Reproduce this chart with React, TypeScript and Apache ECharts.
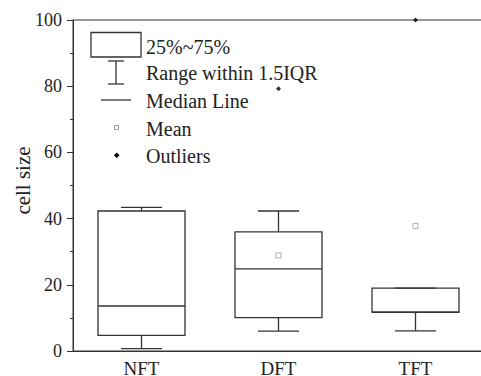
import React, { useEffect, useRef } from "react";
import * as echarts from "echarts";

const categories = ["NFT", "DFT", "TFT"];
const whiskerLow = [0.7, 6.0, 6.1];
const q1 = [4.7, 10.1, 11.7];
const median = [13.6, 24.8, 11.7];
const q3 = [42.3, 36.0, 19.0];
const whiskerHigh = [43.4, 42.3, 19.0];
const means: (number | null)[] = [null, 28.9, 37.8];
const outliers: [number, number][] = [
  [1, 79.2],
  [2, 100],
];
const yTicks = { min: 0, max: 100, interval: 20 };
const legendLabels = ["25%~75%", "Range within 1.5IQR", "Median Line", "Mean", "Outliers"];

const FONT = "Liberation Serif";
const LINE = "#333";

export default function App() {
  const ref = useRef<HTMLDivElement>(null);
  useEffect(() => {
    document.body.style.margin = "0";
    const chart = echarts.init(ref.current!, null, { renderer: "svg" });
    const boxData = categories.map((_, i) => [i, whiskerLow[i], q1[i], median[i], q3[i], whiskerHigh[i]]);
    const meanData = means
      .map((m, i) => (m == null ? null : [i, m]))
      .filter((d) => d != null);
    const legendY = [47, 73, 101, 129, 156];
    chart.setOption({
      animation: false,
      grid: {
        left: 73,
        top: 20,
        width: 411,
        height: 331,
        containLabel: false,
        outerBoundsMode: "none",
        show: true,
        borderColor: LINE,
        borderWidth: 1,
        backgroundColor: "transparent",
      },
      xAxis: {
        type: "category",
        data: categories,
        boundaryGap: true,
        axisLine: { lineStyle: { color: LINE, width: 1 } },
        axisTick: { alignWithLabel: true, length: 5, lineStyle: { color: LINE } },
        axisLabel: { fontFamily: FONT, fontSize: 19, color: "#222", margin: 8 },
        splitLine: { show: false },
      },
      yAxis: {
        type: "value",
        min: yTicks.min,
        max: yTicks.max,
        interval: yTicks.interval,
        name: "cell size",
        nameLocation: "middle",
        nameRotate: 90,
        nameGap: 40,
        nameMoveOverlap: false,
        nameTextStyle: { fontFamily: FONT, fontSize: 21, color: "#222", padding: [0, 0, 0, 10] },
        axisLine: { show: true, lineStyle: { color: LINE, width: 1 } },
        axisTick: { show: true, length: 6, lineStyle: { color: LINE } },
        minorTick: { show: true, splitNumber: 2, length: 3, lineStyle: { color: LINE } },
        axisLabel: { fontFamily: FONT, fontSize: 18, color: "#222", margin: 11 },
        splitLine: { show: false },
      },
      series: [
        {
          type: "custom",
          data: boxData,
          encode: { x: 0, y: [1, 2, 3, 4, 5] },
          renderItem: (params: any, api: any) => {
            const x = api.value(0);
            const band = api.size([1, 0])[0];
            const bw = band * 0.635;
            const cw = band * 0.3;
            const pLow = api.coord([x, api.value(1)]);
            const pQ1 = api.coord([x, api.value(2)]);
            const pMed = api.coord([x, api.value(3)]);
            const pQ3 = api.coord([x, api.value(4)]);
            const pHigh = api.coord([x, api.value(5)]);
            const cx = pQ1[0];
            const st = { stroke: LINE, lineWidth: 1.3, fill: null };
            return {
              type: "group",
              children: [
                { type: "rect", shape: { x: cx - bw / 2, y: pQ3[1], width: bw, height: pQ1[1] - pQ3[1] }, style: { stroke: LINE, lineWidth: 1.3, fill: "transparent" } },
                { type: "line", shape: { x1: cx - bw / 2, y1: pMed[1], x2: cx + bw / 2, y2: pMed[1] }, style: st },
                { type: "line", shape: { x1: cx, y1: pQ3[1], x2: cx, y2: pHigh[1] }, style: st },
                { type: "line", shape: { x1: cx, y1: pQ1[1], x2: cx, y2: pLow[1] }, style: st },
                { type: "line", shape: { x1: cx - cw / 2, y1: pHigh[1], x2: cx + cw / 2, y2: pHigh[1] }, style: st },
                { type: "line", shape: { x1: cx - cw / 2, y1: pLow[1], x2: cx + cw / 2, y2: pLow[1] }, style: st },
              ],
            };
          },
          z: 2,
        },
        {
          type: "scatter",
          data: meanData,
          symbol: "rect",
          symbolSize: 5,
          clip: false,
          itemStyle: { color: "#fff", borderColor: "#999", borderWidth: 1 },
          z: 3,
        },
        {
          type: "scatter",
          data: outliers,
          symbol: "diamond",
          symbolSize: 5,
          clip: false,
          itemStyle: { color: "#000" },
          z: 3,
        },
      ],
      graphic: [
        { type: "rect", shape: { x: 91, y: 32.5, width: 50, height: 24.5 }, style: { stroke: LINE, lineWidth: 1.3, fill: "#fff" } },
        { type: "line", shape: { x1: 116, y1: 61, x2: 116, y2: 84 }, style: { stroke: LINE, lineWidth: 1.3 } },
        { type: "line", shape: { x1: 108, y1: 61, x2: 124, y2: 61 }, style: { stroke: LINE, lineWidth: 1.3 } },
        { type: "line", shape: { x1: 108, y1: 84, x2: 124, y2: 84 }, style: { stroke: LINE, lineWidth: 1.3 } },
        { type: "line", shape: { x1: 101, y1: 100, x2: 131, y2: 100 }, style: { stroke: LINE, lineWidth: 1.3 } },
        { type: "rect", shape: { x: 114.5, y: 125.5, width: 4, height: 4 }, style: { stroke: "#999", lineWidth: 1, fill: "#fff" } },
        { type: "polygon", shape: { points: [[116.7, 152.5], [119.5, 155.3], [116.7, 158.1], [113.9, 155.3]] }, style: { fill: "#000" } },
        ...legendLabels.map((t, i) => ({
          type: "text",
          x: 146,
          y: legendY[i],
          style: { text: t, fontFamily: FONT, fontSize: 20, fill: "#222", verticalAlign: "middle" },
        })),
      ],
    });
    return () => chart.dispose();
  }, []);
  return <div ref={ref} style={{ width: 481, height: 376 }} />;
}
